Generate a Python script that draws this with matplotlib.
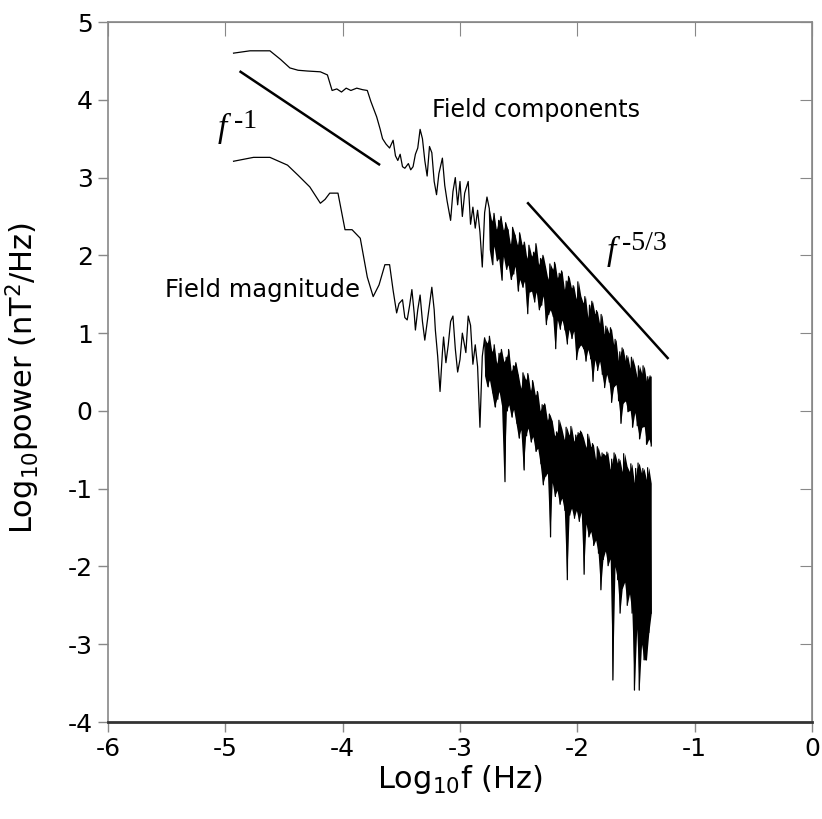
import numpy as np
import matplotlib.pyplot as plt

plt.rcParams['font.family'] = ['DejaVu Sans']
plt.rcParams['axes.unicode_minus'] = False
plt.rcParams['mathtext.fontset'] = 'dejavusans'

# ---- field components (upper trace) ----
comp_x = [-4.93, -4.79, -4.62, -4.53, -4.45, -4.38, -4.30, -4.19, -4.13, -4.09,
          -4.05, -4.01, -3.97, -3.93, -3.88, -3.83, -3.79, -3.76, -3.71, -3.68,
          -3.66, -3.63, -3.60, -3.57, -3.55, -3.53, -3.51, -3.49, -3.47, -3.44,
          -3.42, -3.40, -3.38, -3.36, -3.34, -3.32, -3.30, -3.28, -3.26, -3.24,
          -3.22, -3.20, -3.18, -3.15, -3.13, -3.11, -3.08, -3.06, -3.04, -3.02,
          -3.00, -2.98, -2.96, -2.93, -2.91, -2.89, -2.87, -2.85, -2.83, -2.81,
          -2.79, -2.77]
comp_y = [4.60, 4.63, 4.63, 4.52, 4.41, 4.38, 4.37, 4.36, 4.32, 4.12,
          4.14, 4.10, 4.15, 4.12, 4.15, 4.13, 4.12, 3.98, 3.78, 3.62,
          3.50, 3.43, 3.38, 3.48, 3.28, 3.22, 3.30, 3.14, 3.12, 3.18,
          3.10, 3.14, 3.30, 3.38, 3.62, 3.50, 3.22, 3.02, 3.40, 3.32,
          2.95, 2.78, 3.05, 3.25, 2.90, 2.70, 2.45, 2.82, 3.00, 2.65,
          2.95, 2.50, 2.80, 2.95, 2.40, 2.62, 2.35, 2.58, 2.30, 1.85,
          2.55, 2.75]
# dense part: alternating peaks / troughs of the spectrum
comp_band = (-2.75, -1.37)
comp_hi = [2.60, 2.44, 2.54, 2.33, 2.45, 2.50, 2.32, 2.42, 2.33, 2.14,
           2.36, 2.26, 2.13, 2.29, 2.13, 2.17, 1.96, 2.13, 1.99, 2.04,
           2.15, 1.88, 1.96, 2.00, 1.85, 1.69, 1.89, 1.82, 1.91, 1.71,
           1.77, 1.80, 1.56, 1.67, 1.73, 1.58, 1.61, 1.44, 1.66, 1.48,
           1.39, 1.47, 1.20, 1.36, 1.41, 1.25, 1.29, 1.12, 1.24, 0.99,
           1.09, 1.00, 1.07, 0.85, 0.92, 0.65, 0.76, 0.81, 0.65, 0.71,
           0.55, 0.69, 0.58, 0.43, 0.58, 0.48, 0.58, 0.38, 0.44, 0.45]
comp_lo = [2.07, 1.88, 2.12, 1.93, 1.96, 1.68, 1.99, 1.82, 1.88, 1.69,
           1.76, 1.86, 1.54, 1.69, 1.59, 1.67, 1.25, 1.53, 1.54, 1.40,
           1.53, 1.30, 1.36, 1.48, 1.11, 1.24, 1.30, 1.21, 0.80, 1.17,
           1.05, 1.17, 1.04, 0.86, 1.05, 0.93, 1.03, 0.66, 0.81, 0.85,
           0.80, 0.64, 0.79, 0.67, 0.38, 0.66, 0.52, 0.64, 0.47, 0.30,
           0.47, 0.37, 0.11, 0.31, 0.34, 0.13, -0.16, 0.10, 0.13, -0.01,
           0.01, -0.21, -0.02, -0.19, -0.36, -0.21, -0.20, -0.43, -0.36, -0.45]

# ---- field magnitude (lower trace) ----
mag_x = [-4.93, -4.76, -4.62, -4.47, -4.38, -4.28, -4.19, -4.15, -4.11, -4.04,
         -3.98, -3.92, -3.85, -3.79, -3.74, -3.69, -3.64, -3.60, -3.57, -3.54,
         -3.52, -3.49, -3.47, -3.45, -3.43, -3.41, -3.39, -3.38, -3.36, -3.34,
         -3.32, -3.30, -3.27, -3.24, -3.22, -3.21, -3.19, -3.17, -3.15, -3.14,
         -3.12, -3.10, -3.08, -3.06, -3.04, -3.02, -3.00, -2.98, -2.95, -2.93,
         -2.91, -2.89, -2.87, -2.85, -2.83, -2.81]
mag_y = [3.21, 3.26, 3.26, 3.16, 3.03, 2.88, 2.67, 2.72, 2.80, 2.80,
         2.33, 2.33, 2.22, 1.72, 1.47, 1.62, 1.88, 1.88, 1.55, 1.26,
         1.38, 1.43, 1.20, 1.17, 1.35, 1.56, 1.25, 1.04, 1.30, 1.49,
         1.15, 0.91, 1.25, 1.59, 1.30, 1.04, 0.70, 0.25, 0.75, 0.95,
         0.62, 0.85, 1.15, 1.22, 0.80, 0.50, 0.66, 1.00, 0.75, 1.22,
         1.10, 0.60, 0.85, 0.57, -0.21, 0.70]
mag_band = (-2.79, -1.37)
mag_hi = [0.94, 0.87, 0.96, 0.76, 0.85, 0.61, 0.74, 0.79, 0.63, 0.69,
          0.79, 0.51, 0.58, 0.62, 0.46, 0.29, 0.49, 0.40, 0.48, 0.26,
          0.39, 0.20, 0.25, 0.00, 0.08, 0.09, -0.12, -0.04, -0.13, -0.32,
          -0.27, -0.12, -0.23, -0.37, -0.21, -0.31, -0.20, -0.39, -0.31, -0.28,
          -0.26, -0.35, -0.47, -0.30, -0.46, -0.42, -0.63, -0.46, -0.59, -0.54,
          -0.57, -0.53, -0.75, -0.62, -0.54, -0.67, -0.62, -0.78, -0.55, -0.71,
          -0.78, -0.68, -0.92, -0.74, -0.67, -0.80, -0.74, -0.88, -0.73, -0.93]
mag_lo = [0.45, 0.31, 0.40, 0.23, 0.05, 0.15, 0.25, 0.07, -0.91, 0.00,
          0.08, -0.08, 0.02, -0.16, -0.35, -0.24, -0.76, -0.32, -0.22, -0.40,
          -0.33, -0.52, -0.48, -0.68, -0.95, -0.84, -0.80, -1.62, -0.92, -1.10,
          -1.02, -1.20, -1.12, -1.28, -2.17, -1.34, -1.25, -1.38, -1.28, -1.42,
          -1.30, -2.10, -1.45, -1.62, -1.55, -1.73, -1.66, -1.83, -2.30, -1.91,
          -1.80, -1.99, -1.90, -3.46, -2.00, -2.17, -2.60, -2.28, -2.20, -2.50,
          -2.35, -2.60, -3.59, -2.80, -3.59, -3.00, -3.20, -3.20, -2.85, -2.60]

# reference power laws
slope1_x = [-4.87, -3.69]
slope1_y = [4.36, 3.17]
slope53_x = [-2.42, -1.23]
slope53_y = [2.67, 0.68]


def draw_trace(ax, x, y, band, hi, lo):
    # sparse low-frequency part + dense high-frequency part
    xb = np.linspace(band[0], band[1], len(hi))
    zz = np.column_stack([hi, lo]).ravel()
    xz = np.linspace(band[0], band[1], len(zz))
    ax.plot(np.concatenate([x, xz]), np.concatenate([y, zz]), color='black', lw=0.9)
    ax.fill_between(xb, hi, lo, color='black', lw=0)


fig = plt.figure(figsize=(8.22, 8.19), dpi=100)
ax = fig.add_axes([0.1314, 0.1184, 0.8564, 0.8547])

draw_trace(ax, comp_x, comp_y, comp_band, comp_hi, comp_lo)
draw_trace(ax, mag_x, mag_y, mag_band, mag_hi, mag_lo)
ax.plot(slope1_x, slope1_y, color='black', lw=1.8)
ax.plot(slope53_x, slope53_y, color='black', lw=1.8)

ax.text(-3.238, 3.87, 'Field components', fontsize=17, va='center', ha='left')
ax.text(-5.514, 1.555, 'Field magnitude', fontsize=17.5, va='center', ha='left')

serif = ['Liberation Serif', 'DejaVu Serif']
ax.text(-5.062, 3.52, 'f', family=serif, style='italic', fontsize=24, va='baseline')
ax.text(-4.926, 3.64, '-1', family=serif, fontsize=20, va='baseline')
ax.text(-1.746, 1.94, 'f', family=serif, style='italic', fontsize=24, va='baseline')
ax.text(-1.618, 2.07, '-5/3', family=serif, fontsize=20, va='baseline')

ax.set_xlim(-6, 0)
ax.set_ylim(-4, 5)
ax.set_xticks(range(-6, 1))
ax.set_yticks(range(-4, 6))
ax.tick_params(direction='out', length=7, width=1, color='#888888', labelsize=18, pad=4)

for s in ['left', 'top', 'right']:
    ax.spines[s].set_color('#888888')
    ax.spines[s].set_linewidth(1.2)
ax.spines['bottom'].set_color('#333333')
ax.spines['bottom'].set_linewidth(2)

top = ax.secondary_xaxis('top')
top.set_xticks(range(-6, 1))
top.tick_params(direction='in', length=10, color='#888888', labeltop=False)
top.spines['top'].set_color('#888888')
right = ax.secondary_yaxis('right')
right.set_yticks(range(-4, 6))
right.tick_params(direction='in', length=9, color='#888888', labelright=False)
right.spines['right'].set_color('#888888')

ax.set_xlabel('Log$_{10}$f (Hz)', fontsize=22)
ax.set_ylabel('Log$_{10}$power (nT$^{2}$/Hz)', fontsize=22)
ax.xaxis.set_label_coords(0.5, -0.058)
ax.yaxis.set_label_coords(-0.094, 0.491)

plt.savefig('out.png', dpi=100)
